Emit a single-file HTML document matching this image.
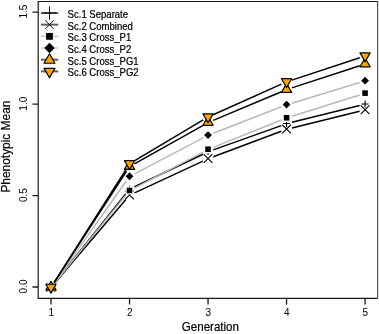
<!DOCTYPE html>
<html><head><meta charset="utf-8"><style>
html,body{margin:0;padding:0;background:#fff;overflow:hidden;}
svg{display:block;font-family:"Liberation Sans",sans-serif;will-change:transform;}
</style></head><body>
<svg width="379" height="334" viewBox="0 0 379 334">
<rect width="379" height="334" fill="#fff"/>
<g font-family="'Liberation Sans', sans-serif" fill="#000">
<path d="M377.6 1.5H38.2V298.4H377.6" fill="none" stroke="#1a1a1a" stroke-width="1.2"/><path d="M377.6 1.0V298.9" fill="none" stroke="#555" stroke-width="1.2"/>
<path d="M51 298.4V304.5M129.52 298.4V304.5M208.04 298.4V304.5M286.56 298.4V304.5M365.08 298.4V304.5M32.5 287H38.2M32.5 195.6H38.2M32.5 104.2H38.2M32.5 12.15H38.2" stroke="#1a1a1a" stroke-width="1.3" fill="none"/>
<text x="51.3" y="316.0" text-anchor="middle" font-size="10">1</text><text x="129.82" y="316.0" text-anchor="middle" font-size="10">2</text><text x="208.34" y="316.0" text-anchor="middle" font-size="10">3</text><text x="286.86" y="316.0" text-anchor="middle" font-size="10">4</text><text x="365.38" y="316.0" text-anchor="middle" font-size="10">5</text><text transform="translate(27.1,286.5) rotate(-90)" text-anchor="middle" font-size="10">0.0</text><text transform="translate(27.1,195.1) rotate(-90)" text-anchor="middle" font-size="10">0.5</text><text transform="translate(27.1,103.7) rotate(-90)" text-anchor="middle" font-size="10">1.0</text><text transform="translate(27.1,11.65) rotate(-90)" text-anchor="middle" font-size="10">1.5</text><text transform="translate(210.4,330.5) scale(0.94,1)" text-anchor="middle" font-size="12.3" stroke="#000" stroke-width="0.2">Generation</text><text transform="translate(9.9,146.6) rotate(-90) scale(0.985,1)" text-anchor="middle" font-size="12.1" stroke="#000" stroke-width="0.2">Phenotypic Mean</text>
</g>
<g><path d="M54.5 283.02L126.02 193.48M134.58 186.7L202.98 154.2M213.31 149.91L281.29 125.59M291.99 122.35L359.65 105.55" stroke="#000" stroke-width="1.5" fill="none"/><path d="M47.5 287.2H54.5M51 283.7V290.7" stroke="#000" stroke-width="1.1" fill="none"/><path d="M126.02 188.9H133.02M129.52 185.4V192.4" stroke="#000" stroke-width="1.1" fill="none"/><path d="M204.54 151.6H211.54M208.04 148.1V155.1" stroke="#000" stroke-width="1.1" fill="none"/><path d="M283.06 123.5H290.06M286.56 120V127" stroke="#000" stroke-width="1.1" fill="none"/><path d="M361.58 104H368.58M365.08 100.5V107.5" stroke="#000" stroke-width="1.1" fill="none"/><path d="M54.63 283.14L125.89 199.46M134.6 192.84L202.96 161.06M213.28 156.74L281.32 131.26M292 127.96L359.64 111.34" stroke="#000" stroke-width="1.5" fill="none"/><path d="M46.65 282.85L55.35 291.55M46.65 291.55L55.35 282.85" stroke="#000" stroke-width="1.1" fill="none"/><path d="M125.17 190.65L133.87 199.35M125.17 199.35L133.87 190.65" stroke="#000" stroke-width="1.1" fill="none"/><path d="M203.69 154.15L212.39 162.85M203.69 162.85L212.39 154.15" stroke="#000" stroke-width="1.1" fill="none"/><path d="M282.21 124.75L290.91 133.45M282.21 133.45L290.91 124.75" stroke="#000" stroke-width="1.1" fill="none"/><path d="M360.73 105.45L369.43 114.15M360.73 114.15L369.43 105.45" stroke="#000" stroke-width="1.1" fill="none"/><path d="M54.53 283.05L125.99 195M134.48 188.05L203.08 152.05M213.24 147.36L281.36 120.04M291.9 116.27L359.74 94.98" stroke="#b8b8b8" stroke-width="1.5" fill="none"/><rect x="48.2" y="284.4" width="5.6" height="5.6" fill="#000" stroke="#fff" stroke-width="2.4" paint-order="stroke"/><rect x="126.72" y="187.65" width="5.6" height="5.6" fill="#000" stroke="#fff" stroke-width="2.4" paint-order="stroke"/><rect x="205.24" y="146.45" width="5.6" height="5.6" fill="#000" stroke="#fff" stroke-width="2.4" paint-order="stroke"/><rect x="283.76" y="114.95" width="5.6" height="5.6" fill="#000" stroke="#fff" stroke-width="2.4" paint-order="stroke"/><rect x="362.28" y="90.3" width="5.6" height="5.6" fill="#000" stroke="#fff" stroke-width="2.4" paint-order="stroke"/><path d="M54.23 282.83L126.29 181.02M134.48 173.85L203.08 137.85M213.26 133.23L281.34 106.82M291.92 103.17L359.72 82.53" stroke="#b8b8b8" stroke-width="1.5" fill="none"/><path d="M51 283.3L54.9 287.2L51 291.1L47.1 287.2Z" fill="#000"/><path d="M129.52 172.35L133.42 176.25L129.52 180.15L125.62 176.25Z" fill="#000"/><path d="M208.04 131.15L211.94 135.05L208.04 138.95L204.14 135.05Z" fill="#000"/><path d="M286.56 100.7L290.46 104.6L286.56 108.5L282.66 104.6Z" fill="#000"/><path d="M365.08 76.8L368.98 80.7L365.08 84.6L361.18 80.7Z" fill="#000"/><path d="M54.05 282.7L126.47 171.25M134.41 163.81L203.15 125.29M213.2 120.39L281.4 91.81M291.88 87.91L359.76 65.79" stroke="#000" stroke-width="1.5" fill="none"/><path d="M51 281.3L56.11 290.15L45.89 290.15Z" fill="#FFA500" stroke="#000" stroke-width="1.2" stroke-linejoin="round"/><path d="M129.52 160.45L134.63 169.3L124.41 169.3Z" fill="#FFA500" stroke="#000" stroke-width="1.2" stroke-linejoin="round"/><path d="M208.04 116.45L213.15 125.3L202.93 125.3Z" fill="#FFA500" stroke="#000" stroke-width="1.2" stroke-linejoin="round"/><path d="M286.56 83.55L291.67 92.4L281.45 92.4Z" fill="#FFA500" stroke="#000" stroke-width="1.2" stroke-linejoin="round"/><path d="M365.08 57.95L370.19 66.8L359.97 66.8Z" fill="#FFA500" stroke="#000" stroke-width="1.2" stroke-linejoin="round"/><path d="M54 282.67L126.52 168.58M134.33 160.98L203.23 119.92M213.15 114.76L281.45 84.14M291.88 80.1L359.76 57.8" stroke="#000" stroke-width="1.5" fill="none"/><path d="M51 293.1L56.11 284.25L45.89 284.25Z" fill="#FFA500" stroke="#000" stroke-width="1.2" stroke-linejoin="round"/><path d="M129.52 169.55L134.63 160.7L124.41 160.7Z" fill="#FFA500" stroke="#000" stroke-width="1.2" stroke-linejoin="round"/><path d="M208.04 122.75L213.15 113.9L202.93 113.9Z" fill="#FFA500" stroke="#000" stroke-width="1.2" stroke-linejoin="round"/><path d="M286.56 87.55L291.67 78.7L281.45 78.7Z" fill="#FFA500" stroke="#000" stroke-width="1.2" stroke-linejoin="round"/><path d="M365.08 61.75L370.19 52.9L359.97 52.9Z" fill="#FFA500" stroke="#000" stroke-width="1.2" stroke-linejoin="round"/></g>
<g font-family="'Liberation Sans', sans-serif" stroke-width="0.25"><path d="M40.9 13H58.3" stroke="#626262" stroke-width="2.0"/><path d="M42.9 13H56.1M49.5 6.4V19.6" stroke="#000" stroke-width="0.95" fill="none"/><text transform="translate(67.6,17.9) scale(0.95,1)" font-size="10.05" stroke="#000" stroke-width="0.22">Sc.1 Separate</text><path d="M40.9 24.68H58.3" stroke="#626262" stroke-width="2.0"/><path d="M45.15 20.33L53.85 29.03M45.15 29.03L53.85 20.33" stroke="#000" stroke-width="0.95" fill="none"/><text transform="translate(67.6,29.58) scale(0.95,1)" font-size="10.05" stroke="#000" stroke-width="0.22">Sc.2 Combined</text><path d="M40.9 36.36H58.3" stroke="#c8c8c8" stroke-width="1.3"/><rect x="46.1" y="32.96" width="6.8" height="6.8" fill="#000"/><text transform="translate(67.6,41.26) scale(0.95,1)" font-size="10.05" stroke="#000" stroke-width="0.22">Sc.3 Cross_P1</text><path d="M40.9 48.04H58.3" stroke="#c8c8c8" stroke-width="1.3"/><path d="M49.5 42.84L54.7 48.04L49.5 53.24L44.3 48.04Z" fill="#000"/><text transform="translate(67.6,52.94) scale(0.95,1)" font-size="10.05" stroke="#000" stroke-width="0.22">Sc.4 Cross_P2</text><path d="M40.9 59.72H58.3" stroke="#626262" stroke-width="2.0"/><path d="M49.5 53.82L54.96 63.27L44.04 63.27Z" fill="#FFA500" stroke="#000" stroke-width="1.2" stroke-linejoin="round"/><text transform="translate(67.6,64.62) scale(0.95,1)" font-size="10.05" stroke="#000" stroke-width="0.22">Sc.5 Cross_PG1</text><path d="M40.9 71.4H58.3" stroke="#626262" stroke-width="2.0"/><path d="M49.5 77.8L54.96 68.35L44.04 68.35Z" fill="#FFA500" stroke="#000" stroke-width="1.2" stroke-linejoin="round"/><text transform="translate(67.6,76.3) scale(0.95,1)" font-size="10.05" stroke="#000" stroke-width="0.22">Sc.6 Cross_PG2</text></g>
</svg>
</body></html>
